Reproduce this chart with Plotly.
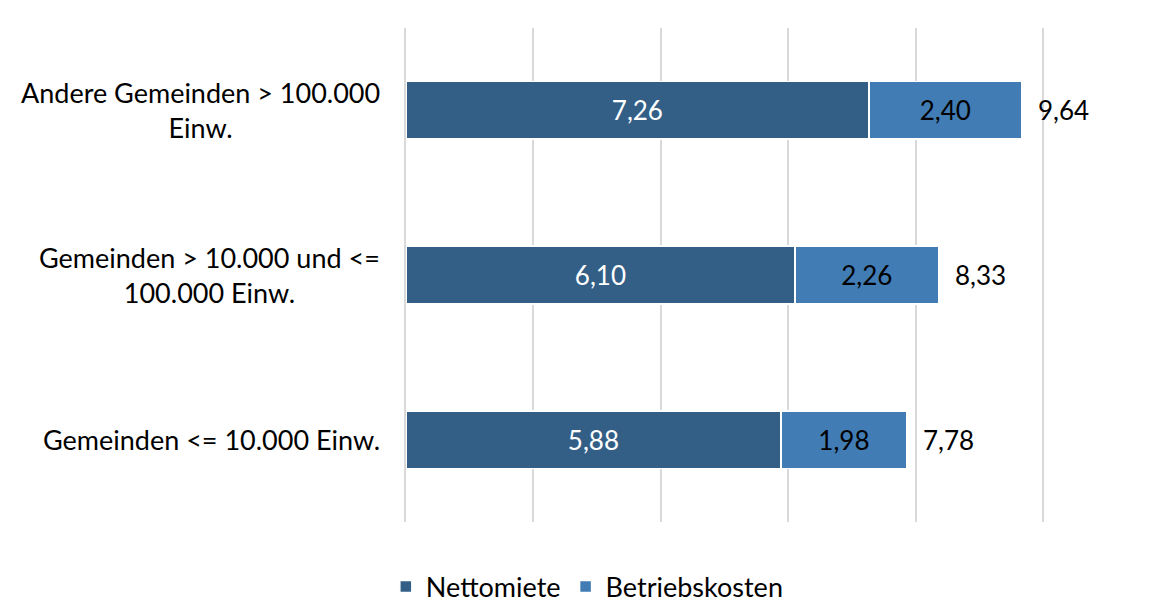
import plotly.graph_objects as go

categories = [
    "Andere Gemeinden > 100.000<br>Einw.",
    "Gemeinden > 10.000 und <=<br>100.000 Einw.",
    "Gemeinden <= 10.000 Einw.",
]
nettomiete = [7.26, 6.10, 5.88]
betriebskosten = [2.40, 2.26, 1.98]
totals = ["9,64", "8,33", "7,78"]

dark_blue = "#335f87"
light_blue = "#417cb4"
grid_grey = "#d9d9d9"
font_family = "Lato, 'Open Sans', sans-serif"
font_size = 26


def fmt(v):
    return f"{v:.2f}".replace(".", ",")


fig = go.Figure()
fig.add_bar(
    y=categories,
    x=nettomiete,
    orientation="h",
    name="Nettomiete",
    marker=dict(color=dark_blue, line=dict(color="white", width=1.5)),
    text=[fmt(v) for v in nettomiete],
    textposition="inside",
    insidetextanchor="middle",
    textfont=dict(color="white", size=font_size, family=font_family),
)
fig.add_bar(
    y=categories,
    x=betriebskosten,
    orientation="h",
    name="Betriebskosten",
    marker=dict(color=light_blue, line=dict(color="white", width=1.5)),
    text=[fmt(v) for v in betriebskosten],
    textposition="inside",
    insidetextanchor="middle",
    textfont=dict(color="black", size=font_size, family=font_family),
)

# total labels to the right of each bar
for cat, n, b, t in zip(categories, nettomiete, betriebskosten, totals):
    fig.add_annotation(
        x=n + b,
        y=cat,
        text=t,
        showarrow=False,
        xanchor="left",
        xshift=14,
        font=dict(size=font_size, color="black", family=font_family),
    )

# category labels as annotations so the lines are centred
for cat in categories:
    fig.add_annotation(
        x=0,
        y=cat,
        xref="paper",
        yref="y",
        text=cat,
        showarrow=False,
        xanchor="right",
        align="center",
        xshift=-24,
        font=dict(size=27, color="black", family=font_family),
    )

fig.update_layout(
    barmode="stack",
    bargap=0.65,
    width=1168,
    height=601,
    margin=dict(l=398, r=0, t=20, b=87),
    plot_bgcolor="white",
    paper_bgcolor="white",
    font=dict(family=font_family, size=font_size, color="black"),
    legend=dict(
        orientation="h",
        xref="container",
        x=0.496,
        xanchor="center",
        yref="container",
        y=0.0366,
        yanchor="middle",
        font=dict(size=27),
        traceorder="normal",
        itemwidth=30,
    ),
    xaxis=dict(
        range=[0, 12.08],
        dtick=2,
        showticklabels=False,
        showgrid=True,
        gridcolor=grid_grey,
        gridwidth=1.5,
        zeroline=False,
        showline=False,
    ),
    yaxis=dict(
        autorange="reversed",
        showticklabels=False,
        showgrid=False,
        zeroline=False,
        showline=True,
        linecolor=grid_grey,
        linewidth=1.5,
        layer="below traces",
    ),
)

fig.write_html("out.html")
